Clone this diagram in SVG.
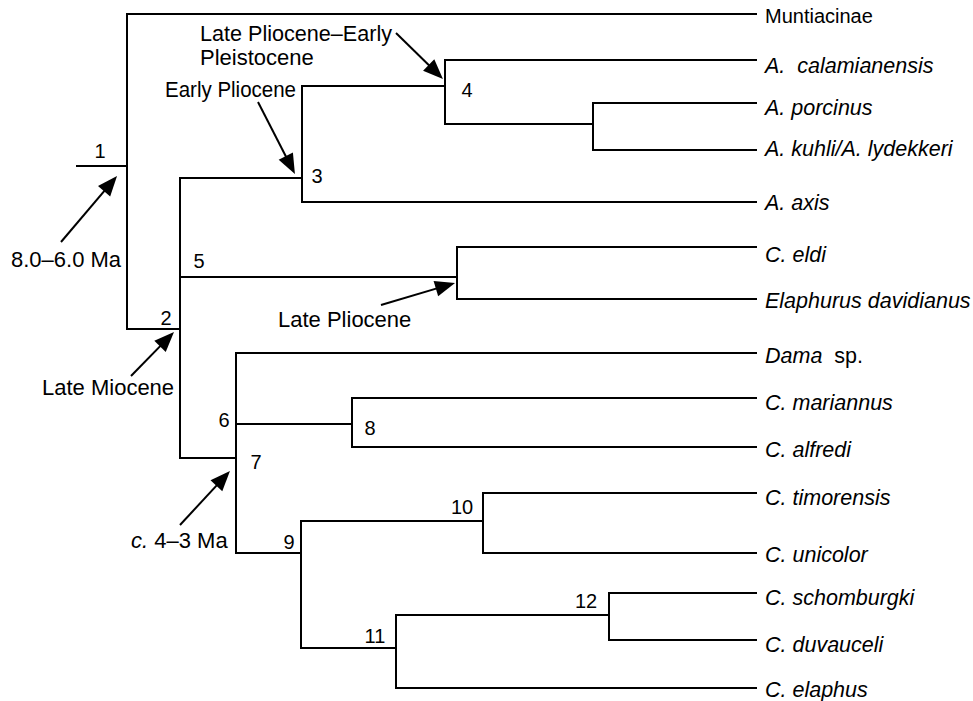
<svg xmlns="http://www.w3.org/2000/svg" width="973" height="701" viewBox="0 0 973 701">
<style>
.br{fill:none;stroke:#000;stroke-width:2;stroke-linecap:square}
.ar{fill:none;stroke:#000;stroke-width:2;marker-end:url(#ah)}
text{font-family:"Liberation Sans",Arial,Helvetica,sans-serif;fill:#000}
.tx{font-size:21.5px;font-style:italic}
.an{font-size:22px}
.nn{font-size:20px;text-anchor:middle}
.up{font-style:normal}
</style>
<defs>
<marker id="ah" markerUnits="userSpaceOnUse" markerWidth="20" markerHeight="16" refX="9" refY="8" orient="auto" overflow="visible">
<path d="M0,0 L20,8 L0,16 z" fill="#000"/>
</marker>
</defs>
<rect width="973" height="701" fill="#fff"/>
<g id="connectors">
<path class="br" d="M77,166 H127 M127,14 H756 M127,14 V329 H180 M180,178 V458 M180,178 H302 M302,86 V202 M302,86 H445 M445,60 V124 M445,60 H756 M445,124 H593 M593,103 V150 M593,103 H756 M593,150 H756 M302,202 H756 M180,277 H457 M457,247 V299 M457,247 H756 M457,299 H756 M180,458 H236 M236,353 V553 M236,353 H756 M236,424 H352 M352,398 V447 M352,398 H756 M352,447 H756 M236,553 H301 M301,521 V648 M301,521 H483 M483,493 V553 M483,493 H756 M483,553 H756 M301,648 H396 M396,615 V688 M396,615 H609 M609,593 V640 M609,593 H756 M609,640 H756 M396,688 H756"/>
<line class="ar" x1="396" y1="33" x2="435.1" y2="71.3"/>
<line class="ar" x1="258" y1="102" x2="289.9" y2="164.2"/>
<line class="ar" x1="61" y1="242" x2="109.9" y2="184.4"/>
<line class="ar" x1="131" y1="376" x2="166.3" y2="339.9"/>
<line class="ar" x1="381" y1="305" x2="444.5" y2="286.1"/>
<line class="ar" x1="180" y1="525" x2="222.5" y2="479.1"/>
</g>
<g id="taxon-muntiacinae"><text x="765" y="23" style="font-size:20px">Muntiacinae</text></g>
<g id="taxon-calamianensis"><text class="tx" x="765" y="73">A.&#160; calamianensis</text></g>
<g id="taxon-porcinus"><text class="tx" x="765" y="115">A. porcinus</text></g>
<g id="taxon-kuhli"><text class="tx" x="765" y="156">A. kuhli/A. lydekkeri</text></g>
<g id="taxon-axis"><text class="tx" x="765" y="210">A. axis</text></g>
<g id="taxon-eldi"><text class="tx" x="765" y="262">C. eldi</text></g>
<g id="taxon-elaphurus"><text class="tx" x="765" y="308">Elaphurus davidianus</text></g>
<g id="taxon-dama"><text class="tx" x="765" y="363">Dama<tspan class="up">&#160; sp.</tspan></text></g>
<g id="taxon-mariannus"><text class="tx" x="765" y="410">C. mariannus</text></g>
<g id="taxon-alfredi"><text class="tx" x="765" y="457">C. alfredi</text></g>
<g id="taxon-timorensis"><text class="tx" x="765" y="505">C. timorensis</text></g>
<g id="taxon-unicolor"><text class="tx" x="765" y="562">C. unicolor</text></g>
<g id="taxon-schomburgki"><text class="tx" x="765" y="605">C. schomburgki</text></g>
<g id="taxon-duvauceli"><text class="tx" x="765" y="652">C. duvauceli</text></g>
<g id="taxon-elaphus"><text class="tx" x="765" y="697">C. elaphus</text></g>
<g id="node-1"><text class="nn" x="100" y="158">1</text></g>
<g id="node-2"><text class="nn" x="166" y="325">2</text></g>
<g id="node-3"><text class="nn" x="317" y="183">3</text></g>
<g id="node-4"><text class="nn" x="467" y="97">4</text></g>
<g id="node-5"><text class="nn" x="199" y="268">5</text></g>
<g id="node-6"><text class="nn" x="224" y="427">6</text></g>
<g id="node-7"><text class="nn" x="256" y="469">7</text></g>
<g id="node-8"><text class="nn" x="370" y="435">8</text></g>
<g id="node-9"><text class="nn" x="289" y="549">9</text></g>
<g id="node-10"><text class="nn" x="462" y="514">10</text></g>
<g id="node-11"><text class="nn" x="375" y="643">11</text></g>
<g id="node-12"><text class="nn" x="586" y="608">12</text></g>
<g id="label-late-pliocene-early-pleistocene"><text class="an" x="200" y="41" textLength="192" lengthAdjust="spacingAndGlyphs">Late Pliocene–Early</text><text class="an" x="200" y="65">Pleistocene</text></g>
<g id="label-early-pliocene"><text class="an" x="165" y="97" textLength="131" lengthAdjust="spacingAndGlyphs">Early Pliocene</text></g>
<g id="label-8-6-ma"><text class="an" x="11" y="267">8.0–6.0 Ma</text></g>
<g id="label-late-miocene"><text class="an" x="42" y="395">Late Miocene</text></g>
<g id="label-late-pliocene"><text class="an" x="278" y="327">Late Pliocene</text></g>
<g id="label-4-3-ma"><text class="an" x="131" y="548"><tspan style="font-style:italic">c.</tspan> 4–3 Ma</text></g>
</svg>
